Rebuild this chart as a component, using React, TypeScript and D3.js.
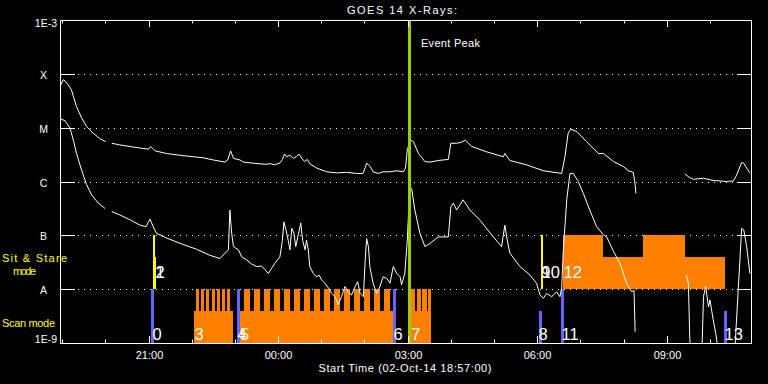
import React from 'react';
import * as d3 from 'd3';

// time axis: minutes since start (02-Oct-14 18:57:00), 16 h span
const START_MINUTE_OF_DAY = 18 * 60 + 57;
const SPAN_MINUTES = 960;

// GOES 14 long channel (1-8 A): [minutes since start, log10 flux], null = data gap
const longChannel: ([number, number] | null)[] = [
  [1, -4.21], [4.6, -4.11], [7, -4.13], [11, -4.2], [16, -4.3], [18.5, -4.42], [23, -4.61], [30, -4.82],
  [37, -4.98], [46, -5.1], [56, -5.21], [63.5, -5.26], null,
  [72, -5.29], [83, -5.32], [102, -5.36], [123, -5.4], [126, -5.35], [132, -5.43], [148, -5.48], [171, -5.52],
  [199, -5.56], [213, -5.6], [229, -5.64], [233, -5.6], [237, -5.43], [241, -5.57], [250, -5.6], [255, -5.64],
  [268.5, -5.66], [285, -5.68], [292, -5.67], [299, -5.69], [306, -5.65], [309, -5.59], [312, -5.49], [315, -5.54],
  [319.5, -5.51], [324, -5.57], [329, -5.53], [332, -5.49], [336, -5.57], [340, -5.63], [343.5, -5.59], [347, -5.67],
  [356.5, -5.75], [370.5, -5.82], [384.5, -5.84], [398, -5.83], [412, -5.85], [421, -5.85], [424, -5.74], [426, -5.66],
  [431, -5.72], [435, -5.82], [442, -5.85], [449, -5.82], [458.5, -5.82], [468, -5.8], [477, -5.82], [480, -5.75],
  [482.5, -5.41], [487, -5.23], [491, -5.26], [498, -5.48], [507, -5.63], [514, -5.64], [525.5, -5.61], [539.5, -5.59],
  [543, -5.29], [551, -5.29], [558, -5.27], [563, -5.23], [572, -5.35], [593, -5.45], [616, -5.54], [618, -5.48],
  [625, -5.61], [648, -5.69], [671.5, -5.8], [697, -5.85], [701.5, -5.54], [706, -5.1], [709.5, -5.03], [718, -5.07],
  [731.5, -5.26], [748, -5.48], [755, -5.48], [769, -5.63], [782.5, -5.72], [789.5, -5.8], [796.5, -5.83], [799, -6.06],
  [800, -6.22], null,
  [868, -5.86], [873, -5.91], [880, -5.96], [894, -5.94], [907.5, -5.98], [926, -6.0], [935.5, -5.99], [940, -5.88],
  [947, -5.65], [950, -5.66], [954, -5.75], [958.5, -5.84],
];

// GOES 14 short channel (0.5-4 A)
const shortChannel: ([number, number] | null)[] = [
  [1, -4.84], [7, -4.87], [14, -5.01], [18.5, -5.23], [23, -5.48], [30, -5.79], [37, -6.06], [44, -6.25],
  [53, -6.4], [62.5, -6.5], null,
  [72, -6.56], [83, -6.62], [97, -6.71], [111, -6.81], [119.5, -6.84], [125, -6.7], [129.5, -6.84], [134, -6.96],
  [148, -7.05], [167, -7.15], [190, -7.26], [208, -7.37], [222, -7.43], [234, -7.27], [236, -6.53], [238.5, -6.96],
  [241, -7.21], [248, -7.27], [252.5, -7.4], [259.5, -7.46], [266, -7.53], [273, -7.58], [280, -7.57], [285, -7.64],
  [289.5, -7.71], [294, -7.61], [298.5, -7.52], [305.5, -7.4], [309, -7.09], [311, -6.75], [314, -6.9], [317, -7.09],
  [319.5, -7.27], [322, -6.87], [325, -6.96], [327.5, -7.21], [331, -6.99], [334.5, -6.77], [337, -7.09], [340.5, -7.27],
  [342.5, -7.09], [345, -7.27], [347, -7.58], [352, -7.71], [356.5, -7.77], [360, -7.74], [363.5, -7.83], [368, -7.89],
  [373, -7.98], [377.5, -8.08], [382, -8.14], [386.5, -8.29], [391, -8.14], [396, -7.95], [400.5, -8.05], [405, -8.11],
  [410, -7.95], [413.5, -7.86], [417, -8.08], [421.5, -8.14], [424, -7.46], [426, -7.06], [428.5, -7.21], [430.5, -7.58],
  [435, -7.89], [440, -8.08], [444.5, -7.95], [449, -7.77], [454, -7.8], [458.5, -7.89], [463, -7.58], [468, -7.71],
  [472.5, -7.77], [474.5, -7.92], [479, -7.71], [482.5, -7.09], [484, -6.65], [485.5, -6.1], [488.5, -6.13], [493, -6.53],
  [500, -6.96], [507, -7.21], [514, -7.15], [525.5, -7.03], [539.5, -7.03], [543, -6.47], [546.5, -6.4], [551, -6.53],
  [560, -6.34], [569.5, -6.53], [583.5, -6.72], [602, -7.03], [613.5, -7.21], [618, -6.81], [620.5, -7.03], [625, -7.33],
  [639, -7.58], [653, -7.74], [662, -7.89], [667, -8.11], [671.5, -8.17], [676, -8.08], [683, -8.14], [690, -8.05],
  [694.5, -8.14], [697, -7.98], [699, -7.33], [704, -6.34], [708.5, -5.85], [713, -5.85], [720, -6.0], [727, -6.22],
  [736, -6.53], [745.5, -6.84], [755, -6.99], [759.5, -7.03], [769, -7.3], [778, -7.52], [787, -7.89], [794, -8.05],
  [797.5, -8.02], [799, -8.79], null,
  [870, -7.74], [873, -7.89], [875, -8.94], [878, -9.3], [891.5, -9.3], [894, -8.14], [897, -7.95], [901, -8.33],
  [903, -8.2], [907.5, -8.57], [911, -8.82], [914.5, -9.13], null,
  [937.5, -9.13], [942, -8.08], [947, -6.87], [950, -6.9], [954, -7.21], [958.5, -7.71],
];

// flare class grid levels
const gradeLabels = ['A', 'B', 'C', 'M', 'X'];
const gradeExponents = [-8, -7, -6, -5, -4];

// observation bars: [start min, end min, relative height]
const scanBlocks: [number, number, number][] = [
  [186, 240.5, 0.6], [189, 193.5, 1], [196, 200.5, 1], [203, 207.5, 1], [210.5, 215, 1], [218, 222, 1],
  [225, 229, 1], [232, 235.5, 1],
  [248.7, 462.6, 0.6], [255.6, 264, 1], [269.5, 278, 1], [283.4, 291.7, 1], [297.3, 305.6, 1], [311.2, 319.5, 1],
  [325.1, 333.4, 1], [339, 347.3, 1], [352.9, 361.2, 1], [366.8, 375.1, 1], [380.7, 389, 1], [394.5, 402.9, 1],
  [408.5, 416.8, 1], [422.3, 430.7, 1], [436.2, 444.6, 1], [450.1, 458.5, 1],
  [487.7, 515.5, 0.6], [487.7, 493.2, 1], [495.3, 501.5, 1], [503.6, 509.9, 1], [511.3, 515.5, 1],
];
const scanMarkers: [number, number, number][] = [
  [126.4, 130.6, 1], [246, 249.5, 1], [463, 467, 1], [665.5, 669.6, 0.6], [696, 700.2, 1], [922.5, 926.7, 0.6],
];
const sitBlocks: [number, number, number][] = [
  [699.2, 754.8, 1], [754.8, 810.4, 0.6], [810.4, 868.3, 1], [868.3, 923.9, 0.6],
];
const sitMarkers: [number, number, number][] = [
  [129.2, 132, 1], [132, 133.8, 0.6], [667.8, 670.6, 1],
];
const scanLabels: [string, number][] = [
  ['0', 127.8], ['3', 186.2], ['4', 246], ['5', 249.5], ['6', 462.6], ['7', 487.2], ['8', 664], ['11', 696], ['13', 922.5],
];
const sitLabels: [string, number][] = [
  ['1', 132], ['2', 132], ['9', 668], ['10', 668.5], ['12', 699],
];
const eventPeak = 485.5;

const FONT = '"Liberation Sans", Arial, sans-serif';
const WHITE = '#ffffff';
const ORANGE = '#ff8000';
const BLUE = '#6464ff';
const YELLOW = '#ffff00';
const GREEN = '#9acd00';

export default function App() {
  const W = 768, H = 384;
  const L = 60, R = 751, T = 20, B = 343;
  const x = d3.scaleLinear().domain([0, SPAN_MINUTES]).range([L, R]);
  const y = d3.scaleLog().domain([1e-9, 1e-3]).range([B, T]);
  const scanBand = d3.scaleLinear().domain([0, 1]).range([y(1e-9), y(1e-8)]);
  const sitBand = d3.scaleLinear().domain([0, 1]).range([y(1e-8), y(1e-7)]);

  const line = d3
    .line<[number, number] | null>()
    .defined((d) => d !== null)
    .x((d) => x((d as [number, number])[0]))
    .y((d) => y(Math.pow(10, (d as [number, number])[1])));

  const hourTicks = d3.range(60 - (START_MINUTE_OF_DAY % 60), SPAN_MINUTES, 60);
  const clockHour = (m: number) => Math.round((START_MINUTE_OF_DAY + m) / 60) % 24;

  const bars = (data: [number, number, number][], band: d3.ScaleLinear<number, number>, color: string, key: string) =>
    data.map((d, i) => (
      <rect
        key={key + i}
        x={x(d[0])}
        width={Math.max(1, x(d[1]) - x(d[0]))}
        y={band(d[2])}
        height={band(0) - band(d[2])}
        fill={color}
        shapeRendering="crispEdges"
      />
    ));

  return (
    <svg width={W} height={H} style={{ position: 'absolute', left: 0, top: 0, background: '#000' }}>
      <rect x={0} y={0} width={W} height={H} fill="#000" />
      <defs>
        <clipPath id="plot">
          <rect x={L} y={T} width={R - L} height={B - T} />
        </clipPath>
      </defs>

      {/* grid levels */}
      {gradeExponents.map((e, i) => {
        const yy = Math.round(y(Math.pow(10, e))) + 0.5;
        return (
          <g key={'g' + i}>
            <line x1={L} x2={L + 15} y1={yy} y2={yy} stroke={WHITE} strokeWidth={1} />
            <line x1={R - 14} x2={R} y1={yy} y2={yy} stroke={WHITE} strokeWidth={1} />
            <line x1={L + 18} x2={R - 14} y1={yy} y2={yy} stroke={WHITE} strokeWidth={1} strokeDasharray="1 5" />
            <text x={43.5} y={yy + 4} fill={WHITE} fontSize={10.5} fontFamily={FONT} textAnchor="middle">
              {gradeLabels[i]}
            </text>
          </g>
        );
      })}

      {/* observation bars */}
      {bars(scanBlocks, scanBand, ORANGE, 'sb')}
      {bars(sitBlocks, sitBand, ORANGE, 'tb')}
      {bars(scanMarkers, scanBand, BLUE, 'sm')}
      {bars(sitMarkers, sitBand, YELLOW, 'tm')}

      {/* curves */}
      <g clipPath="url(#plot)">
        <path d={line(longChannel) || ''} fill="none" stroke={WHITE} strokeWidth={1} />
        <path d={line(shortChannel) || ''} fill="none" stroke={WHITE} strokeWidth={1} />
      </g>

      {/* event peak */}
      <rect x={x(eventPeak) - 1.5} width={3} y={T} height={B - T} fill={GREEN} shapeRendering="crispEdges" />
      <text x={x(eventPeak) + 11.5} y={46.5} fill={WHITE} fontSize={11} fontFamily={FONT} textLength={59} lengthAdjust="spacing">
        Event Peak
      </text>

      {/* event labels */}
      {scanLabels.map((d, i) => (
        <text key={'sl' + i} x={x(d[1]) + 0.5} y={339.5} fill={WHITE} fontSize={16.5} fontFamily={FONT}>
          {d[0]}
        </text>
      ))}
      {sitLabels.map((d, i) => (
        <text key={'tl' + i} x={x(d[1]) + 0.5} y={278} fill={WHITE} fontSize={16.5} fontFamily={FONT}>
          {d[0]}
        </text>
      ))}

      {/* frame */}
      <rect x={L + 0.5} y={T + 0.5} width={R - L} height={B - T} fill="none" stroke={WHITE} strokeWidth={1} />

      {/* time ticks */}
      {hourTicks.map((m) => {
        const xx = Math.round(x(m)) + 0.5;
        const major = clockHour(m) % 3 === 0;
        const len = major ? 7 : 3.5;
        return (
          <g key={'t' + m}>
            <line x1={xx} x2={xx} y1={B} y2={B - len} stroke={WHITE} strokeWidth={1} />
            <line x1={xx} x2={xx} y1={T} y2={T + len} stroke={WHITE} strokeWidth={1} />
            {major && (
              <text x={xx} y={359} fill={WHITE} fontSize={11} fontFamily={FONT} textAnchor="middle">
                {String(clockHour(m)).padStart(2, '0') + ':00'}
              </text>
            )}
          </g>
        );
      })}

      {/* y end labels */}
      <text x={57} y={27} fill={WHITE} fontSize={10.5} fontFamily={FONT} textAnchor="end">1E-3</text>
      <text x={57} y={343} fill={WHITE} fontSize={10.5} fontFamily={FONT} textAnchor="end">1E-9</text>

      {/* mode labels */}
      <text x={2} y={262} fill={YELLOW} fontSize={11} fontFamily={FONT} textLength={65} lengthAdjust="spacing">Sit &amp; Stare</text>
      <text x={13} y={275} fill={YELLOW} fontSize={11} fontFamily={FONT} textLength={23} lengthAdjust="spacing">mode</text>
      <text x={2} y={327} fill={YELLOW} fontSize={11} fontFamily={FONT} textLength={53} lengthAdjust="spacing">Scan mode</text>

      {/* title and x label */}
      <text x={347} y={13.5} fill={WHITE} fontSize={11} fontFamily={FONT} textLength={110} lengthAdjust="spacing">GOES 14 X-Rays:</text>
      <text x={318.5} y={372} fill={WHITE} fontSize={11} fontFamily={FONT} textLength={173} lengthAdjust="spacing">
        Start Time (02-Oct-14 18:57:00)
      </text>
    </svg>
  );
}
